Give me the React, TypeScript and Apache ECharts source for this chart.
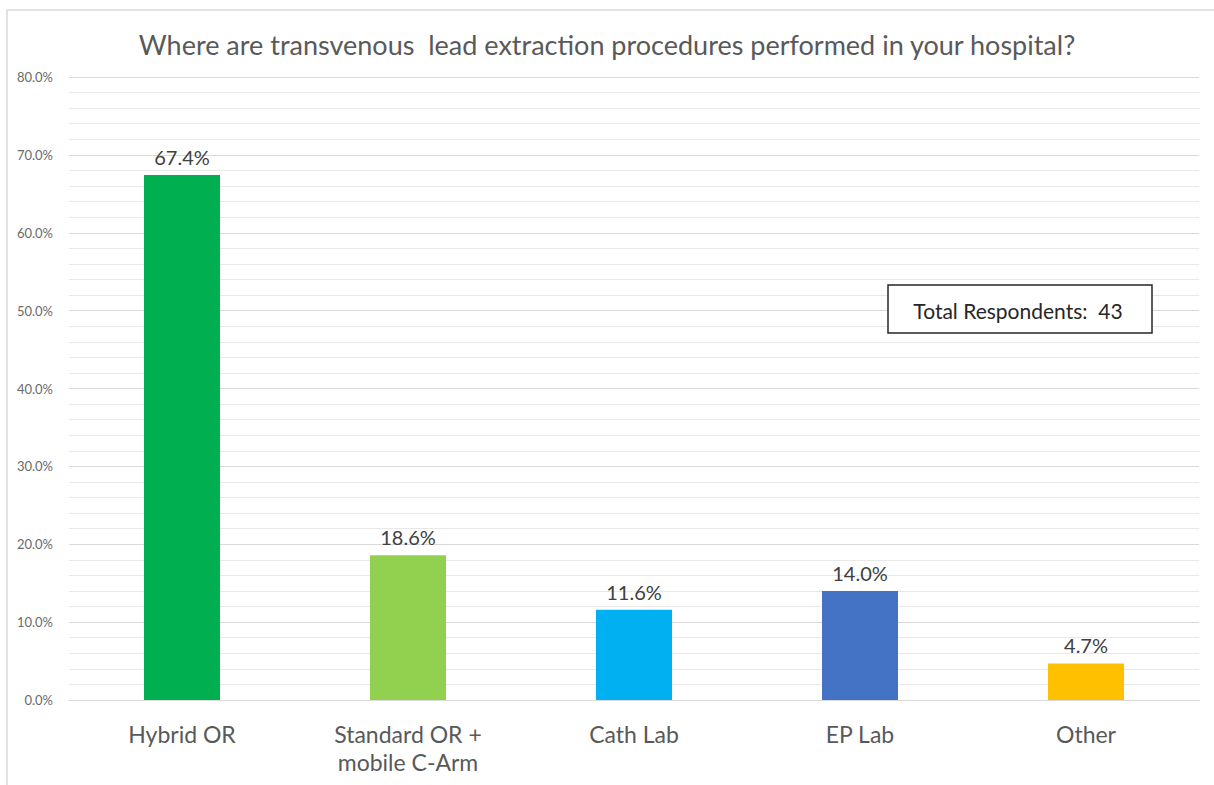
import React, { useEffect, useRef } from "react";
import * as echarts from "echarts";

const categories = ["Hybrid OR", "Standard OR +\nmobile C-Arm", "Cath Lab", "EP Lab", "Other"];
const values = [67.4, 18.6, 11.6, 14.0, 4.7];
const barColors = ["#00B050", "#92D050", "#00B0F0", "#4472C4", "#FFC000"];
const titleText = "Where are transvenous  lead extraction procedures performed in your hospital?";
const noteText = "Total Respondents:  43";

const FONT = "Lato";

export default function App() {
  const ref = useRef<HTMLDivElement>(null);
  useEffect(() => {
    document.body.style.margin = "0";
    const chart = echarts.init(ref.current!, undefined, { renderer: "svg" });
    chart.setOption({
      animation: false,
      backgroundColor: "#ffffff",
      textStyle: { fontFamily: FONT },
      title: {
        text: titleText,
        left: "center",
        top: 26,
        textStyle: { fontFamily: FONT, fontSize: 27, fontWeight: "normal", color: "#595959" },
      },
      grid: { left: 69, right: 15, top: 77, bottom: 85, containLabel: false },
      xAxis: {
        type: "category",
        data: categories,
        axisLine: { show: true, lineStyle: { color: "#d9d9d9" } },
        axisTick: { show: false },
        axisLabel: { fontFamily: FONT, fontSize: 23, color: "#595959", margin: 20, lineHeight: 28 },
      },
      yAxis: {
        type: "value",
        min: 0,
        max: 80,
        interval: 10,
        axisLabel: {
          formatter: (v: number) => v.toFixed(1) + "%",
          fontFamily: FONT,
          fontSize: 13,
          color: "#6a6a6a",
          margin: 16,
        },
        axisLine: { show: false },
        axisTick: { show: false },
        splitLine: { lineStyle: { color: "#d9d9d9", width: 1 } },
        minorTick: { show: false, splitNumber: 5 },
        minorSplitLine: { show: true, lineStyle: { color: "#e8e8e8", width: 1 } },
      },
      series: [
        {
          type: "bar",
          data: values.map((v, i) => ({ value: v, itemStyle: { color: barColors[i] } })),
          barWidth: 76,
          label: {
            show: true,
            position: "top",
            distance: 8,
            formatter: (p: any) => p.value.toFixed(1) + "%",
            fontFamily: FONT,
            fontSize: 20,
            color: "#404040",
          },
        },
      ],
      graphic: [
        { type: "line", shape: { x1: 7, y1: 10, x2: 1214, y2: 10 }, style: { stroke: "#d9d9d9", lineWidth: 1.5 } },
        { type: "line", shape: { x1: 7, y1: 10, x2: 7, y2: 785 }, style: { stroke: "#d9d9d9", lineWidth: 1.5 } },
        {
          type: "rect",
          shape: { x: 888, y: 285, width: 264, height: 48 },
          style: { fill: "#ffffff", stroke: "#262626", lineWidth: 1.5 },
          z: 10,
        },
        {
          type: "text",
          x: 1018,
          y: 310,
          style: {
            text: noteText,
            fontFamily: FONT,
            fontSize: 21,
            fill: "#262626",
            align: "center",
            verticalAlign: "middle",
          },
          z: 11,
        },
      ],
    });
    return () => chart.dispose();
  }, []);
  return <div ref={ref} style={{ width: 1214, height: 785 }} />;
}
